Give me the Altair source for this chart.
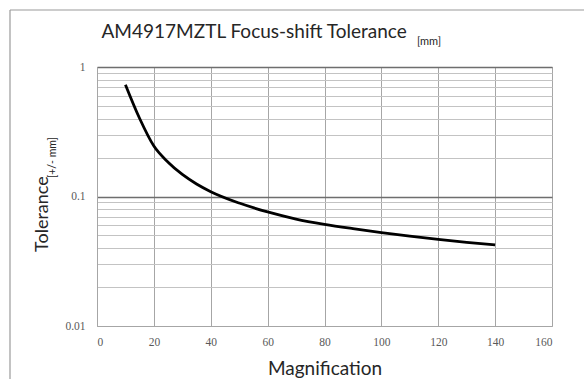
import altair as alt
import pandas as pd

magnification = [10, 15, 20, 25, 30, 35, 40, 50, 60, 70, 80, 90, 100, 110, 120, 130, 140]
tolerance = [0.73, 0.40, 0.245, 0.184, 0.148, 0.125, 0.109, 0.089, 0.076, 0.067, 0.061,
             0.0565, 0.0527, 0.0495, 0.0467, 0.0443, 0.0423]

x_ticks = [0, 20, 40, 60, 80, 100, 120, 140, 160]
y_grid = [0.01, 0.02, 0.03, 0.04, 0.05, 0.06, 0.07, 0.08, 0.09,
          0.1, 0.2, 0.3, 0.4, 0.5, 0.6, 0.7, 0.8, 0.9, 1]

title_main = "AM4917MZTL Focus-shift Tolerance"
title_sub = "[mm]"
ytitle_main = "Tolerance"
ytitle_sub = "[+/- mm]"
xtitle = "Magnification"

df = pd.DataFrame({"Magnification": magnification, "Tolerance": tolerance})

W, H = 455, 259
label_font = "Liberation Serif"
text_font = "Lato"

x_enc = alt.X(
    "Magnification:Q",
    scale=alt.Scale(domain=[0, 160], nice=False),
    axis=alt.Axis(values=x_ticks, title=None, ticks=False, labelPadding=10,
                  labelFont=label_font, labelFontSize=11.5, labelColor="#595959",
                  gridColor="#a6a6a6", gridWidth=1, domainColor="#a6a6a6"),
)
y_enc = alt.Y(
    "Tolerance:Q",
    scale=alt.Scale(type="log", domain=[0.01, 1], nice=False),
    axis=alt.Axis(values=y_grid, title=None, ticks=False, labelPadding=12,
                  labelExpr="(datum.value==1||datum.value==0.1||datum.value==0.01) ? datum.label : ''",
                  labelFont=label_font, labelFontSize=11.5, labelColor="#595959",
                  gridColor={"condition": {"test": "datum.value==0.1 || datum.value==1", "value": "#6e6e6e"}, "value": "#c3c3c3"},
                  gridWidth={"condition": {"test": "datum.value==0.1 || datum.value==1", "value": 1.6}, "value": 1},
                  domainColor="#a6a6a6"),
)

line = alt.Chart(df).mark_line(color="black", strokeWidth=2.8, interpolate="monotone").encode(x=x_enc, y=y_enc)

one = pd.DataFrame({"a": [0]})

def txt(text, x, y, size, align="left", angle=0, color="#262626", baseline="alphabetic"):
    return alt.Chart(one).mark_text(text=text, font=text_font, fontSize=size, align=align,
                                     baseline=baseline, angle=angle, color=color).encode(
        x=alt.value(x), y=alt.value(y))

t1 = txt(title_main, 4.5, -29.5, 19)
t2 = txt(title_sub, 320, -22, 11)
yt1 = txt(ytitle_main, -49, 185, 18, angle=270)
yt2 = txt(ytitle_sub, -41, 111, 10.5, angle=270)
xt = txt(xtitle, 228, 308, 19, align="center")

frame_top = alt.Chart(one).mark_rule(color="#9a9a9a", strokeWidth=1.2).encode(
    x=alt.value(-87), x2=alt.value(490), y=alt.value(-57))
frame_left = alt.Chart(one).mark_rule(color="#9a9a9a", strokeWidth=1.2).encode(
    x=alt.value(-87), y=alt.value(-57), y2=alt.value(315))

chart = alt.layer(line, t1, t2, yt1, yt2, xt, frame_top, frame_left).properties(
    width=W, height=H,
    autosize=alt.AutoSizeParams(type="none"),
    padding={"left": 97, "top": 67, "right": 32, "bottom": 53},
    background="white",
).configure_view(stroke="#a6a6a6", strokeWidth=1)

chart.save("out.html", embed_options={"renderer": "svg", "actions": False})
